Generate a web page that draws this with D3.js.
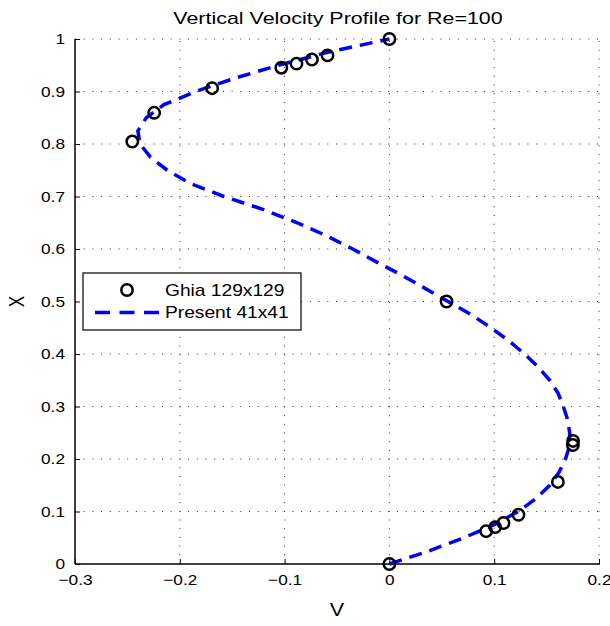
<!DOCTYPE html>
<html>
<head>
<meta charset="utf-8">
<script src="https://cdn.jsdelivr.net/npm/d3@7"></script>
<style>
  body { margin: 0; background: #fff; }
  svg text { font-family: "Liberation Sans", Arial, sans-serif; fill: #000; }
</style>
</head>
<body>
<div id="plot"></div>
<script>
var width = 610;
var height = 626;
var margin = {left: 75, right: 11, top: 39, bottom: 62};
var stretch = 1.15;   // the original figure text is wide

// Ghia et al. 129x129 reference points
var ghiaX = [1.0000, 0.9688, 0.9609, 0.9531, 0.9453, 0.9063, 0.8594, 0.8047, 0.5000,
             0.2344, 0.2266, 0.1563, 0.0938, 0.0781, 0.0703, 0.0625, 0.0000];
var ghiaV = [0, -0.05906, -0.07391, -0.08864, -0.10313, -0.16914, -0.22445, -0.24533, 0.05454,
             0.17527, 0.17507, 0.16077, 0.12317, 0.10890, 0.10091, 0.09233, 0];

// present 41x41 solution
var presentX = [0, 0.025, 0.05, 0.075, 0.1, 0.125, 0.15, 0.175, 0.2, 0.225,
                0.25, 0.275, 0.3, 0.325, 0.35, 0.375, 0.4, 0.425, 0.45, 0.475,
                0.5, 0.525, 0.55, 0.575, 0.6, 0.625, 0.65, 0.675, 0.7, 0.725,
                0.75, 0.775, 0.8, 0.825, 0.85, 0.875, 0.9, 0.925, 0.95, 0.975, 1.0];
var presentV = [0, 0.038, 0.071, 0.100, 0.123, 0.140, 0.153, 0.162, 0.168, 0.172,
                0.172, 0.170, 0.166, 0.161, 0.153, 0.142, 0.129, 0.114, 0.097, 0.078,
                0.056, 0.034, 0.012, -0.012, -0.035, -0.060, -0.088, -0.120, -0.158, -0.190,
                -0.212, -0.228, -0.238, -0.240, -0.232, -0.215, -0.185, -0.148, -0.106, -0.058, 0];

var xTicks = [-0.3, -0.2, -0.1, 0, 0.1, 0.2];
var yTicks = [0, 0.1, 0.2, 0.3, 0.4, 0.5, 0.6, 0.7, 0.8, 0.9, 1];
var legendLabels = ['Ghia 129x129', 'Present 41x41'];

var canvas = d3.select('#plot')
    .append('svg')
    .attr('width', width)
    .attr('height', height);

var x_scale = d3.scaleLinear()
    .domain([-0.3, 0.2])
    .range([margin.left, width - margin.right]);

var y_scale = d3.scaleLinear()
    .domain([0, 1])
    .range([height - margin.bottom, margin.top]);

var x0 = x_scale.range()[0], x1 = x_scale.range()[1];
var y0 = y_scale.range()[0], y1 = y_scale.range()[1];

// helper: wide text placed at (x, y)
function wideText(parent, x, y, str, size, sx, anchor) {
    return parent.append('text')
        .attr('transform', 'translate(' + x + ',' + y + ') scale(' + sx + ',1)')
        .attr('text-anchor', anchor || 'middle')
        .style('font-size', size + 'px')
        .text(str);
}

// dotted grid
canvas.append('g').selectAll('line.vgrid')
    .data(xTicks.filter(function(d) { return d !== -0.3; }))
    .enter().append('line')
    .attr('x1', function(d) { return x_scale(d); })
    .attr('x2', function(d) { return x_scale(d); })
    .attr('y1', y0).attr('y2', y1)
    .style('stroke', '#333').style('stroke-width', 1)
    .style('stroke-dasharray', '1,7.7');

canvas.append('g').selectAll('line.hgrid')
    .data(yTicks.filter(function(d) { return d !== 0; }))
    .enter().append('line')
    .attr('y1', function(d) { return y_scale(d); })
    .attr('y2', function(d) { return y_scale(d); })
    .attr('x1', x0).attr('x2', x1)
    .style('stroke', '#333').style('stroke-width', 1)
    .style('stroke-dasharray', '1,7.7');

// axes
var x_axis = d3.axisBottom(x_scale)
    .tickValues(xTicks)
    .tickSize(-5)
    .tickPadding(10)
    .tickFormat(function(d) { return d === 0 ? '0' : d3.format('.1f')(d).replace('-', '\u2212'); });

var y_axis = d3.axisLeft(y_scale)
    .tickValues(yTicks)
    .tickSize(-5)
    .tickPadding(10)
    .tickFormat(function(d) { return (d === 0 || d === 1) ? String(d) : d3.format('.1f')(d); });

var gx = canvas.append('g')
    .attr('transform', 'translate(0,' + y0 + ')')
    .call(x_axis);
var gy = canvas.append('g')
    .attr('transform', 'translate(' + x0 + ',0)')
    .call(y_axis);

[gx, gy].forEach(function(g) {
    g.select('.domain').remove();
    g.selectAll('.tick line').style('stroke', '#000');
    g.selectAll('.tick text')
        .style('font-size', '15px')
        .style('font-family', '"Liberation Sans", Arial, sans-serif');
});
gx.selectAll('.tick text').attr('transform', 'scale(' + stretch + ',1)');
gy.selectAll('.tick text')
    .attr('x', -10 / stretch)
    .attr('transform', 'scale(' + stretch + ',1)');

canvas.append('line')
    .attr('x1', x0).attr('x2', x1 + 1).attr('y1', y0).attr('y2', y0)
    .style('stroke', '#000').style('stroke-width', 1.5);
canvas.append('line')
    .attr('x1', x0).attr('x2', x0).attr('y1', y0).attr('y2', y1)
    .style('stroke', '#000').style('stroke-width', 1.5);

// present line
var present = presentX.map(function(d, i) { return {x: d, v: presentV[i]}; });
var line = d3.line()
    .x(function(d) { return x_scale(d.v); })
    .y(function(d) { return y_scale(d.x); });

canvas.append('path')
    .datum(present)
    .attr('d', line)
    .style('fill', 'none')
    .style('stroke', '#0000ff')
    .style('stroke-width', 3.5)
    .style('stroke-dasharray', '13,8');

// Ghia circles
var ghia = ghiaX.map(function(d, i) { return {x: d, v: ghiaV[i]}; });
canvas.selectAll('circle.dot')
    .data(ghia)
    .enter()
    .append('circle')
    .attr('class', 'dot')
    .attr('cx', function(d) { return x_scale(d.v); })
    .attr('cy', function(d) { return y_scale(d.x); })
    .attr('r', 5.7)
    .style('fill', 'none')
    .style('stroke', '#000')
    .style('stroke-width', 2.5);

// title and labels
wideText(canvas, (x0 + x1) / 2 + 1, 24, 'Vertical Velocity Profile for Re=100', 16, 1.34);
wideText(canvas, (x0 + x1) / 2, 616, 'V', 18, 1.2);

canvas.append('text')
    .attr('transform', 'translate(24,' + ((y0 + y1) / 2) + ') rotate(-90) scale(1,1.25)')
    .attr('text-anchor', 'middle')
    .style('font-size', '17px')
    .text('X');

// legend
var legend = canvas.append('g').attr('transform', 'translate(83,273)');
legend.append('rect')
    .attr('width', 218).attr('height', 57)
    .style('fill', '#fff').style('stroke', '#000').style('stroke-width', 1.2);
legend.append('circle')
    .attr('cx', 44).attr('cy', 17).attr('r', 5.7)
    .style('fill', 'none').style('stroke', '#000').style('stroke-width', 2.5);
legend.append('line')
    .attr('x1', 12).attr('x2', 76).attr('y1', 39.5).attr('y2', 39.5)
    .style('stroke', '#0000ff').style('stroke-width', 3.5)
    .style('stroke-dasharray', '15,9.5');
legendLabels.forEach(function(d, i) {
    wideText(legend, 82, 23 + i * 22, d, 16, 1.2, 'start');
});
</script>
</body>
</html>
